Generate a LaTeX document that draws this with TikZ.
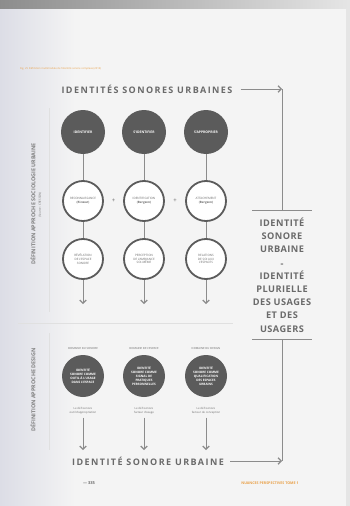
\documentclass[tikz,border=0pt]{standalone}
\usepackage{fontspec}
\setmainfont{Open Sans}
\newfontfamily\spaced[LetterSpace=16]{Open Sans}
\newfontfamily\mildspaced[LetterSpace=5]{Open Sans}
\usetikzlibrary{arrows.meta}
\definecolor{pagebg}{HTML}{F4F4F4}
\definecolor{leftbg}{HTML}{DCDDE6}
\definecolor{dk}{HTML}{5B5B5B}
\definecolor{ln}{HTML}{8C8C8C}
\definecolor{tx}{HTML}{6A6A6A}
\definecolor{orng}{HTML}{E9A047}
\tikzset{
  dark/.style={circle, fill=dk, minimum size=44pt, inner sep=0pt, text=white, align=center, font=\fontsize{3.4}{4}\selectfont\bfseries},
  darksm/.style={dark, minimum size=42pt, font=\fontsize{3.1}{4}\selectfont\bfseries},
  ring/.style={circle, draw=dk, line width=1.8pt, fill=white, minimum size=40pt, inner sep=0pt, text=tx, align=center, font=\fontsize{3}{3.9}\selectfont},
  conn/.style={draw=ln, line width=0.9pt},
  arr/.style={conn, -{Straight Barb[length=3pt,width=6.5pt,line width=1.3pt]}},
  bigtitle/.style={inner sep=0pt, text=tx, font=\spaced\fontsize{9}{10}\selectfont\bfseries},
  tiny/.style={inner sep=0pt, text=tx, align=center, font=\fontsize{2.8}{3.8}\selectfont},
  side/.style={rotate=90, inner sep=0pt, text=tx!85, font=\fontsize{5.4}{6}\selectfont\bfseries},
  sep/.style={draw=black!12, line width=0.6pt},
  plus/.style={inner sep=0pt, text=tx, font=\fontsize{6}{6}\selectfont}
}
\begin{document}
\begin{tikzpicture}[x=1pt,y=-1pt]
\useasboundingbox (0,0) rectangle (350,506);
% page
\fill[pagebg] (0,0) rectangle (350,506);
\shade[left color=leftbg, right color=pagebg] (0,8) rectangle (75,506);
\shade[left color=black!45, right color=black!10] (0,0) rectangle (350,8);
\fill[black!10] (346,8) rectangle (350,506);
% caption
\node[inner sep=0pt, anchor=west, text=orng, font=\fontsize{2.6}{3}\selectfont] (cap) at (20,69) {Fig. 25 Définition multimodale de l'identité sonore complexe (2016)};
% titles
\node[bigtitle] (ttop) at (147,89) {IDENTITÉS SONORES URBAINES};
\node[bigtitle] (tbot) at (148,461) {IDENTITÉ SONORE URBAINE};
% right structure
\coordinate (vt) at (282,89);
\coordinate (vb) at (282,461);
\coordinate (ht) at (282,210);
\coordinate (hb) at (282,339);
\coordinate (htl) at (252,210);
\coordinate (htr) at (312,210);
\coordinate (hbl) at (252,339);
\coordinate (hbr) at (312,339);
\draw[arr, shorten <=8pt] (ttop.east) -- (vt);
\draw[arr, shorten <=6pt] (tbot.east) -- (vb);
\draw[conn] (vt) -- (ht);
\draw[conn] (hb) -- (vb);
\draw[conn] (htl) -- (htr);
\draw[conn] (hbl) -- (hbr);
\node[inner sep=0pt, align=center, text=tx, font=\mildspaced\fontsize{9.2}{13.2}\selectfont\bfseries] (def) at (282,275)
  {IDENTITÉ\\SONORE\\URBAINE\\{\fontsize{5}{13.2}\selectfont =}\\IDENTITÉ\\PLURIELLE\\DES USAGES\\ET DES\\USAGERS};
% side labels
\node[side] (s1) at (33,204) {DÉFINITION APPROCHE SOCIOLOGIE URBAINE};
\node[inner sep=0pt, rotate=90, text=tx, font=\fontsize{2.8}{3}\selectfont] (s1b) at (40,205) {(Source : CRESSON)};
\node[side] (s2) at (33,390) {DÉFINITION APPROCHE DESIGN};
\coordinate (vl1) at (49,108);
\coordinate (vl2) at (49,312);
\coordinate (vl3) at (49,333);
\coordinate (vl4) at (49,450);
\draw[sep] (vl1) -- (vl2);
\draw[sep] (vl3) -- (vl4);
\coordinate (sepl) at (18,323);
\coordinate (sepr) at (233,323);
\draw[sep] (sepl) -- (sepr);
% row 1
\node[dark] (d1) at (83,132) {IDENTIFIER};
\node[dark] (d2) at (144,132) {S'IDENTIFIER};
\node[dark] (d3) at (206,132) {S'APPROPRIER};
% row 2
\node[ring] (r1) at (83,201) {RECONNAISSANCE\\\textbf{(Ricœur)}};
\node[ring] (r2) at (144,201) {IDENTIFICATION\\\textbf{(Bergson)}};
\node[ring] (r3) at (206,201) {ATTACHEMENT\\\textbf{(Bergson)}};
\node[plus] (p1) at (113.5,201) {+};
\node[plus] (p2) at (175,201) {+};
% row 3
\node[ring] (q1) at (83,259) {RÉVÉLATION\\DE L'ESPACE\\SONORE};
\node[ring] (q2) at (144,259) {PERCEPTION\\DE L'AMBIANCE\\SOI-MÊME};
\node[ring] (q3) at (206,259) {RELATIONS\\DE SOI AUX\\L'ESPACES};
\coordinate (a1) at (83,304);
\coordinate (a2) at (144,304);
\coordinate (a3) at (206,304);
\foreach \c in {1,2,3}{
  \draw[conn] (d\c) -- (r\c);
  \draw[conn] (r\c) -- (q\c);
  \draw[arr] (q\c) -- (a\c);
}
% design section
\node[tiny] (l1) at (83,348) {DOMAINE DU SONORE};
\node[tiny] (l2) at (144,348) {DOMAINE DE L'ESPACE};
\node[tiny] (l3) at (206,348) {DOMAINE DU DESIGN};
\node[darksm] (b1) at (83,376) {IDENTITÉ\\SONORE COMME\\OUTIL À L'USAGE\\DANS L'ESPACE};
\node[darksm] (b2) at (144,376) {IDENTITÉ\\SONORE COMME\\SIGNAL DE\\PRATIQUES\\PERSONNELLES};
\node[darksm] (b3) at (206,376) {IDENTITÉ\\SONORE COMME\\QUALIFICATION\\DES ESPACES\\URBAINS};
\node[tiny] (t1) at (83,411) {Le défi sonore\\outil d'appropriation};
\node[tiny] (t2) at (144,411) {Le défi sonore\\facteur d'usage};
\node[tiny] (t3) at (206,411) {Le défi sonore\\facteur de conception};
\coordinate (e1) at (83,450);
\coordinate (e2) at (144,450);
\coordinate (e3) at (206,450);
\foreach \c in {1,2,3}{
  \draw[arr, shorten <=3pt] (t\c.south) -- (e\c);
}
% footer
\node[inner sep=0pt, text=tx, font=\fontsize{4}{5}\selectfont\bfseries] (pn) at (89,483) {— 335};
\node[inner sep=0pt, text=orng, font=\fontsize{3.6}{4}\selectfont\bfseries] (ft) at (270,483) {NUANCES PERSPECTIVES TOME 1};
\end{tikzpicture}
\end{document}
